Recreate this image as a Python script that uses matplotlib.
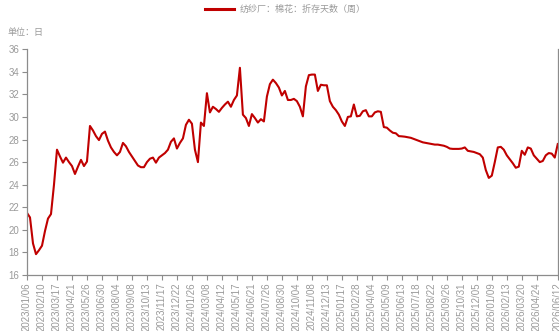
import matplotlib
matplotlib.use("Agg")
import matplotlib.pyplot as plt
import pandas as pd

plt.rcParams['font.family'] = ['Noto Sans CJK SC', 'DejaVu Sans']

# Weekly report dates (Fridays); the two Spring Festival weeks have no report
skipped_weeks = ["2024-02-16", "2025-01-31"]
all_fridays = pd.date_range("2023-01-06", "2026-06-12", freq="7D")
dates = [d for d in all_fridays if d.strftime("%Y-%m-%d") not in skipped_weeks]

# Spinning mills: cotton inventory converted to days of use (weekly)
days_of_stock = [
    21.5, 21.1, 18.8, 17.85, 18.2, 18.6, 19.9, 21.0, 21.4, 24.0,
    27.1, 26.5, 25.95, 26.4, 26.0, 25.65, 24.95, 25.6, 26.2, 25.65,
    26.05, 29.2, 28.8, 28.3, 27.95, 28.5, 28.7, 27.9, 27.3, 26.9,
    26.6, 26.9, 27.7, 27.4, 26.9, 26.5, 26.1, 25.7, 25.55, 25.55,
    26.0, 26.3, 26.4, 25.95, 26.4, 26.6, 26.8, 27.1, 27.8, 28.1,
    27.2, 27.7, 28.1, 29.3, 29.75, 29.4, 27.1, 26.0, 29.5, 29.2,
    32.1, 30.4, 30.9, 30.7, 30.45, 30.8, 31.1, 31.35, 30.9, 31.5,
    31.9, 34.35, 30.2, 29.9, 29.2, 30.25, 29.9, 29.5, 29.8, 29.6,
    31.8, 32.9, 33.3, 33.0, 32.6, 31.9, 32.3, 31.5, 31.5, 31.6,
    31.4, 30.9, 30.05, 32.7, 33.7, 33.75, 33.75, 32.3, 32.85, 32.8,
    32.8, 31.4, 30.9, 30.6, 30.2, 29.6, 29.2, 30.0, 30.05, 31.1,
    30.05, 30.1, 30.5, 30.6, 30.05, 30.05, 30.4, 30.5, 30.45, 29.1,
    29.05, 28.8, 28.6, 28.55, 28.3, 28.28, 28.25, 28.2, 28.15, 28.05,
    27.95, 27.85, 27.75, 27.7, 27.65, 27.6, 27.55, 27.55, 27.5, 27.45,
    27.35, 27.2, 27.17, 27.17, 27.17, 27.2, 27.3, 27.0, 26.95, 26.9,
    26.8, 26.7, 26.4, 25.3, 24.6, 24.8, 26.0, 27.3, 27.35, 27.1,
    26.6, 26.25, 25.9, 25.5, 25.6, 27.0, 26.65, 27.3, 27.2, 26.6,
    26.3, 26.0, 26.1, 26.6, 26.8, 26.75, 26.4, 27.6,
]

series_name = "纺纱厂：棉花：折存天数（周）"
unit_label = "单位：日"
y_ticks = [16, 18, 20, 22, 24, 26, 28, 30, 32, 34, 36]

# Date labels every fifth week, plus the latest week (dropping a crowded one)
last = len(dates) - 1
tick_idx = [i for i in range(0, len(dates), 5) if last - i >= 5] + [last]
tick_labels = [dates[i].strftime("%Y/%m/%d") for i in tick_idx]

line_color = "#c00000"
axis_color = "#8c8c8c"
text_color = "#9a9a9a"

fig = plt.figure(figsize=(5.59, 3.31), dpi=100)
ax = fig.add_axes([0.0483, 0.169, 0.9495, 0.6825])

x = list(range(len(days_of_stock)))
ax.plot(x, days_of_stock, color=line_color, lw=1.5, solid_joinstyle="round")

ax.set_xlim(0, last)
ax.set_ylim(16, 36)
ax.set_yticks(y_ticks)
ax.set_xticks(tick_idx)
ax.set_xticklabels(tick_labels, rotation=90)

for side in ("left", "bottom", "right"):
    ax.spines[side].set_color(axis_color)
    ax.spines[side].set_linewidth(0.9)
ax.spines["top"].set_visible(False)

ax.tick_params(axis="both", colors=axis_color, length=3.5, width=0.8,
               labelcolor=text_color, pad=2)
for lbl in ax.get_xticklabels() + ax.get_yticklabels():
    lbl.set_fontfamily(["Liberation Sans", "DejaVu Sans"])
    lbl.set_fontsize(7.0)

fig.text(0.014, 0.903, unit_label, fontsize=6.5, color=text_color,
         va="center", ha="left")

leg = fig.legend([ax.lines[0]], [series_name], loc="center",
                 bbox_to_anchor=(0.51, 0.972), frameon=False, fontsize=6.5,
                 handlelength=3.2, handletextpad=0.6, borderpad=0.1)
for t in leg.get_texts():
    t.set_color(text_color)
leg.get_lines()[0].set_linewidth(2.2)

fig.savefig("out.png", dpi=100)
